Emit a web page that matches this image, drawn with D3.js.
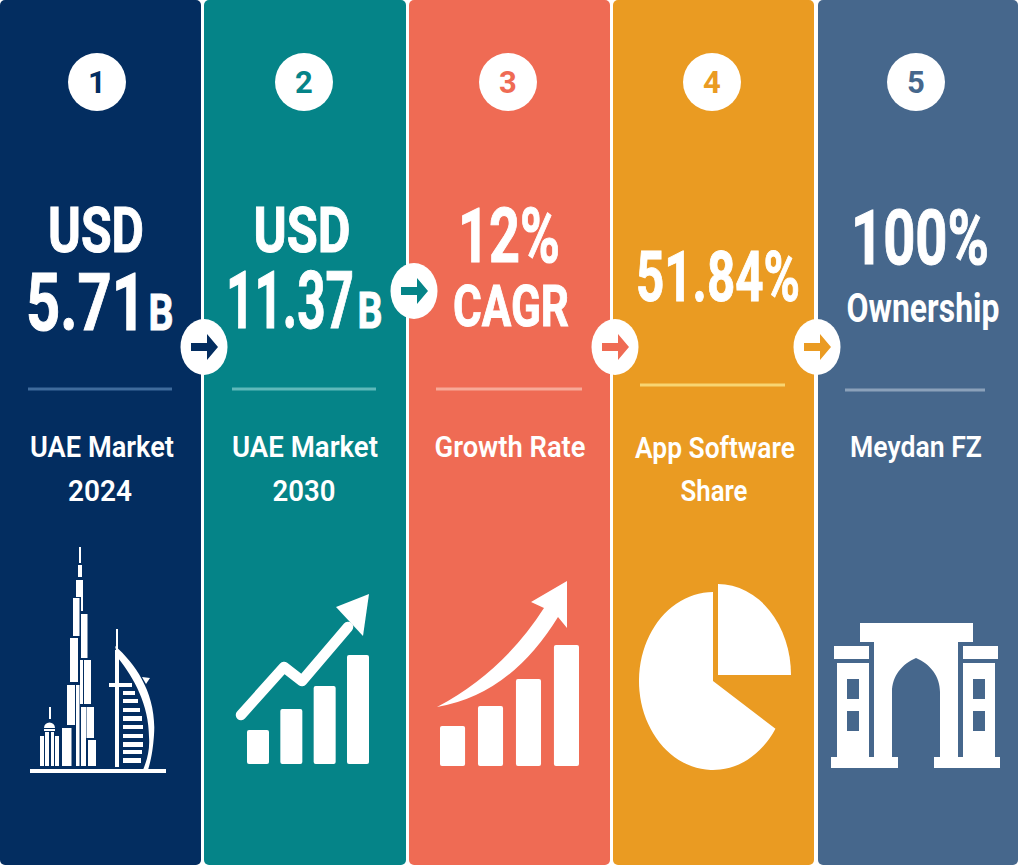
<!DOCTYPE html>
<html>
<head>
<meta charset="utf-8">
<title>UAE Market</title>
<script src="https://cdn.jsdelivr.net/npm/d3@7"></script>
<style>
  html, body { margin: 0; padding: 0; background: #fff; }
  svg { display: block; }
  text { font-family: Roboto, "Open Sans", sans-serif; fill: #fff; }
</style>
</head>
<body>
<div id="chart"></div>
<script>
// values
const steps = [1, 2, 3, 4, 5];
const panelColors = ['#032d60', '#058488', '#ef6b54', '#ea9b22', '#46678c'];
const ruleColors = ['#3f6b9c', '#5fb9ba', '#f8a997', '#f8d572', '#8ba1ba'];
const headlines = [
    [['USD'], ['5.71', 'B']],
    [['USD'], ['11.37', 'B']],
    [['12%'], ['CAGR']],
    [['51.84%']],
    [['100%'], ['Ownership']]
];
const captions = [
    ['UAE Market', '2024'],
    ['UAE Market', '2030'],
    ['Growth Rate'],
    ['App Software', 'Share'],
    ['Meydan FZ']
];
const tealBars = [34, 55, 78, 109];
const coralBars = [40, 60, 87, 121];
const pieShares = [25, 9, 66];

const width = 1018, height = 865;
const svg = d3.select('#chart').append('svg').attr('width', width).attr('height', height);

const panelEdges = [[0, 201], [204, 406], [409, 610], [613, 814], [818, 1018]];
const bandX = i => panelEdges[i][0];
const bandW = i => panelEdges[i][1] - panelEdges[i][0];

// panels
svg.selectAll('.panel').data(steps).enter().append('rect')
    .attr('class', 'panel')
    .attr('x', (d, i) => bandX(i)).attr('y', 0)
    .attr('width', (d, i) => bandW(i)).attr('height', height)
    .attr('rx', 5)
    .attr('fill', (d, i) => panelColors[i]);

// squeezes a text run to the width measured on the reference
function fitText(g, str, o) {
    const t = g.append('text')
        .attr('text-anchor', 'middle')
        .style('font-size', o.size + 'px')
        .style('font-weight', o.weight || 700)
        .style('stroke', '#fff')
        .style('stroke-width', o.stroke || 0)
        .text(str);
    const sx = o.w ? o.w / t.node().getComputedTextLength() : 1;
    t.attr('transform', `translate(${o.x},${o.y}) scale(${sx},1)`);
    return t;
}

// number badges
const badgeX = [97, 304, 508, 712, 916];
const badges = svg.selectAll('.badge').data(steps).enter().append('g').attr('class', 'badge');
badges.append('circle')
    .attr('cx', (d, i) => badgeX[i]).attr('cy', 82).attr('r', 29)
    .attr('fill', '#fff');
badges.append('text')
    .attr('x', (d, i) => badgeX[i]).attr('y', 93)
    .attr('text-anchor', 'middle')
    .style('font-size', '31px').style('font-weight', 700)
    .style('fill', (d, i) => panelColors[i])
    .text(d => d);

// headline layout, same shape as headlines
const headlineLayout = [
    [[{ x: 96, y: 252, size: 63, w: 96, stroke: 1 }], [{ x: 86, y: 330, size: 80, w: 120, stroke: 1 }, { x: 161, y: 330, size: 50, w: 25, stroke: 1 }]],
    [[{ x: 302, y: 252, size: 63, w: 97, stroke: 1 }], [{ x: 290, y: 328, size: 80, w: 128, stroke: 1 }, { x: 370, y: 328, size: 50, w: 25, stroke: 1 }]],
    [[{ x: 509, y: 262, size: 76, w: 102, stroke: 1 }], [{ x: 511, y: 326, size: 58, w: 116, stroke: 1 }]],
    [[{ x: 718, y: 301, size: 70, w: 164, stroke: 1 }]],
    [[{ x: 920, y: 264, size: 76, w: 138, stroke: 1 }], [{ x: 923, y: 322, size: 40, w: 153 }]]
];
headlines.forEach((lines, i) => {
    const g = svg.append('g').attr('class', 'headline');
    lines.forEach((runs, j) => runs.forEach((str, k) => fitText(g, str, headlineLayout[i][j][k])));
});

// divider rules
const ruleLayout = [[28, 172, 389], [232, 376, 389], [436, 582, 389], [640, 785, 385], [845, 985, 390]];
svg.selectAll('.rule').data(ruleLayout).enter().append('rect')
    .attr('class', 'rule')
    .attr('x', d => d[0]).attr('y', d => d[2] - 1.5)
    .attr('width', d => d[1] - d[0]).attr('height', 3)
    .attr('fill', (d, i) => ruleColors[i]);

// captions
const captionLayout = [
    [{ x: 102, y: 457, w: 144 }, { x: 100, y: 501, w: 64 }],
    [{ x: 305, y: 457, w: 146 }, { x: 304, y: 501, w: 63 }],
    [{ x: 510, y: 457, w: 151 }],
    [{ x: 715, y: 458, w: 160 }, { x: 714, y: 501, w: 67 }],
    [{ x: 916, y: 457, w: 132 }]
];
captions.forEach((lines, i) => {
    const g = svg.append('g').attr('class', 'caption');
    lines.forEach((str, j) => fitText(g, str, { ...captionLayout[i][j], size: 30, weight: 600 }));
});

// connector arrows between panels
const connectors = [
    { x: 204, y: 347, c: 0 },
    { x: 414, y: 291, c: 1 },
    { x: 615, y: 347, c: 2 },
    { x: 817, y: 347, c: 3 }
];
const arrowGlyph = 'M-13,-4H3V-13L14,0L3,13V4H-13Z';
const conn = svg.selectAll('.connector').data(connectors).enter().append('g')
    .attr('class', 'connector')
    .attr('transform', d => `translate(${d.x},${d.y})`);
conn.append('ellipse').attr('rx', 23.5).attr('ry', 28).attr('fill', '#fff');
conn.append('path').attr('d', arrowGlyph).attr('fill', d => panelColors[d.c]);

// ---- icons ----
const icons = svg.append('g').attr('class', 'icons').attr('fill', '#fff');

function barIcon(values, x0, x1, baseY, topH) {
    const x = d3.scaleBand().domain(d3.range(values.length)).range([x0, x1]).paddingInner(0.34);
    const y = d3.scaleLinear().domain([0, d3.max(values)]).range([baseY, baseY - topH]);
    icons.append('g').selectAll('rect').data(values).enter().append('rect')
        .attr('x', (d, i) => x(i)).attr('y', d => y(d))
        .attr('width', x.bandwidth()).attr('height', d => baseY - y(d))
        .attr('rx', 2);
}

// skyline, panel 1
const skylineRects = [
    [79, 547, 81, 563], [78, 565, 82, 577], [76, 580, 83, 597], [81, 597, 83, 611],
    [73, 598, 79.5, 636], [81, 614, 87.5, 658], [70, 638, 78, 682], [84, 660, 91, 704],
    [80, 660, 83, 704], [67, 685, 75, 725], [76, 685, 79.5, 766], [81, 707, 86, 766],
    [86.5, 707, 94, 738], [62, 728, 71.5, 766], [88, 740, 96, 766],
    [49, 707, 51, 719], [40, 736, 44, 766], [45, 732, 49, 766], [51, 732, 54, 766],
    [55, 736, 59, 766], [44, 729, 55, 731],
    [30, 769, 166, 773], [116, 629, 118, 650], [115, 650, 119, 767], [109, 683, 132, 687],
    [123, 691, 135, 695], [123, 699, 138, 703], [123, 708, 140, 712], [123, 716, 142, 721],
    [123, 725, 143, 729], [123, 734, 143, 738], [123, 742, 143, 747], [123, 750, 142, 754],
    [123, 758, 141, 763]
];
icons.append('g').selectAll('rect').data(skylineRects).enter().append('rect')
    .attr('x', d => d[0]).attr('y', d => d[1])
    .attr('width', d => d[2] - d[0]).attr('height', d => d[3] - d[1]);
icons.append('path').attr('d', 'M44,728A5,5 0 0 1 55,728Z');
icons.append('path').attr('d', 'M115,646C136,664 157,695 154,735C153,750 151,760 148,770H143C147,760 150,750 149,737C149,705 134,678 118,658Z');
icons.append('path').attr('d', 'M142,677L150,678L146,684Z');

// growth icon, panel 2
barIcon(tealBars, 247, 369, 764, 109);
icons.append('path')
    .attr('d', d3.line()([[241, 715], [284, 667], [302, 681], [348, 627]]))
    .attr('fill', 'none').attr('stroke', '#fff').attr('stroke-width', 10.5)
    .attr('stroke-linecap', 'round').attr('stroke-linejoin', 'round');
icons.append('path').attr('d', 'M369,594L336,607L363,636Z');

// growth icon, panel 3
barIcon(coralBars, 440, 579, 766, 121);
icons.append('path').attr('d', 'M437,707Q503,672 544,608L531,602L567,581L567,628L558,617Q510,695 437,707Z');

// pie icon, panel 4
const pieArcs = d3.pie().sort(null)(pieShares);
const unitArc = d3.arc().innerRadius(0).outerRadius(1);
const pieGroups = [{ a: pieArcs[0], x: 718, y: 675, rx: 73, ry: 91 }, { a: pieArcs[2], x: 713, y: 681, rx: 74, ry: 89 }];
icons.append('g').selectAll('path').data(pieGroups).enter().append('path')
    .attr('transform', d => `translate(${d.x},${d.y}) scale(${d.rx},${d.ry})`)
    .attr('d', d => unitArc(d.a));

// gate icon, panel 5
const gatePath = [
    'M860,623H973V642H958V757H1000V768H934V757H940V692C940,676 930,664 916,658C902,664 892,676 892,692V757H898V768H831V757H874V642H860Z',
    'M834,646H869V659H834Z', 'M963,646H998V659H963Z',
    'M837,663H869V757H837ZM847,679V699H859V679ZM847,711V731H859V711Z',
    'M963,663H995V757H963ZM973,679V699H985V679ZM973,711V731H985V711Z'
];
icons.append('g').selectAll('path').data(gatePath).enter().append('path')
    .attr('d', d => d).attr('fill-rule', 'evenodd');
</script>
</body>
</html>
